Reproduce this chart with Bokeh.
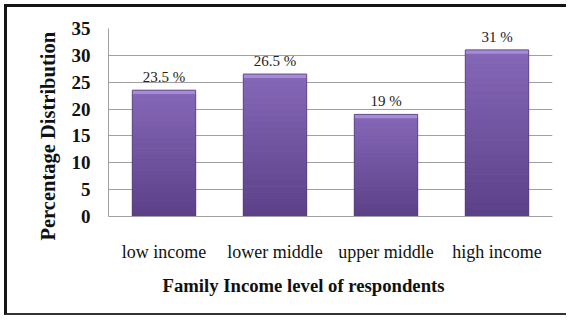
from bokeh.plotting import figure
from bokeh.models import ColumnDataSource, Range1d, FactorRange, Title
from bokeh.core.properties import value
from bokeh.embed import file_html
from bokeh.resources import INLINE

categories = ["low income", "lower middle", "upper middle", "high income"]
percentages = [23.5, 26.5, 19, 31]
value_labels = ["23.5 %", "26.5 %", "19 %", "31 %"]
y_ticks = [0, 5, 10, 15, 20, 25, 30, 35]
x_title = "Family Income level of respondents"
y_title = "Percentage Distribution"

SERIF = "Liberation Serif"

W, H = 562, 311
p = figure(x_range=FactorRange(*categories), y_range=Range1d(0, 35),
           width=W, height=H, output_backend="svg", toolbar_location=None,
           min_border_left=101, min_border_right=17, min_border_top=21,
           min_border_bottom=102)
p.styles = {"position": "absolute", "left": "4px", "top": "4px",
            "border-left": "3px solid #151515", "border-top": "3px solid #151515",
            "border-bottom": "2px solid #333333", "border-right": "none"}
p.outline_line_color = None
p.background_fill_color = "white"
p.border_fill_color = "white"

N = 24
top_c = (0x86, 0x68, 0xb8)
bot_c = (0x5c, 0x41, 0x88)
for i in range(N):
    f0, f1 = i / N, (i + 1) / N
    t = (f0 + f1) / 2
    c = tuple(int(bot_c[k] + (top_c[k] - bot_c[k]) * t) for k in range(3))
    col = "#%02x%02x%02x" % c
    src = ColumnDataSource(dict(x=categories,
                                b=[v * f0 for v in percentages],
                                t=[v * f1 for v in percentages]))
    p.vbar(x="x", bottom="b", top="t", width=0.57, source=src,
           fill_color=col, line_color=col, line_width=1)

bevel = ColumnDataSource(dict(x=categories, b=[v - 0.7 for v in percentages],
                              t=percentages))
p.vbar(x="x", bottom="b", top="t", width=0.57, source=bevel,
       fill_color="#a68cd4", line_color=None)
src = ColumnDataSource(dict(x=categories, t=percentages, lab=value_labels))
p.vbar(x="x", top="t", bottom=0, width=0.57, source=src, fill_color=None,
       line_color="#4e3872", line_width=1, line_alpha=0.6)

p.text(x="x", y="t", text="lab", source=src, text_align="center",
       text_baseline="alphabetic", y_offset=-13, text_font=value(SERIF),
       text_font_size="15px", text_color="#222222")

p.xgrid.grid_line_color = None
p.ygrid.grid_line_color = "#a0a0a0"
p.ygrid.ticker = y_ticks
p.yaxis.ticker = y_ticks

for ax in (p.xaxis[0], p.yaxis[0]):
    ax.axis_line_color = "#a0a0a0"
    ax.major_tick_line_color = None
    ax.minor_tick_line_color = None
    ax.major_tick_out = 0
    ax.major_label_text_font = SERIF
    ax.major_label_text_color = "#111111"

p.yaxis.major_label_text_font_size = "19px"
p.yaxis.major_label_text_font_style = "bold"
p.yaxis.major_label_standoff = 18
p.xaxis.major_label_text_font_size = "18px"
p.xaxis.major_label_standoff = 25
p.x_range.range_padding = 0
p.x_range.group_padding = 0

p.add_layout(Title(text=x_title, align="left", offset=54, standoff=16,
                   text_font=SERIF, text_font_size="18.7px",
                   text_font_style="bold", text_color="#111111"), "below")
p.add_layout(Title(text=y_title, align="left", offset=-24, standoff=20,
                   text_font=SERIF, text_font_size="20.5px",
                   text_font_style="bold", text_color="#111111"), "left")

open("out.html", "w").write(file_html(p, INLINE))
